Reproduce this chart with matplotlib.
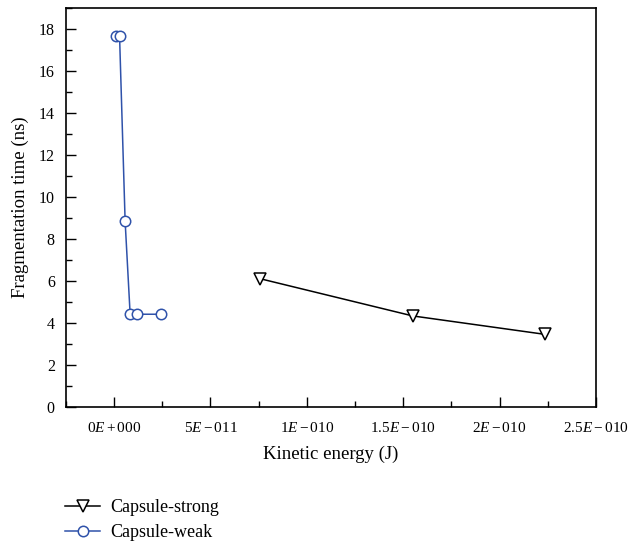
import matplotlib.pyplot as plt
from matplotlib.ticker import MultipleLocator, FixedLocator

plt.rcParams['font.family'] = 'Liberation Serif'
plt.rcParams['mathtext.fontset'] = 'custom'
plt.rcParams['mathtext.rm'] = 'Liberation Serif'
plt.rcParams['mathtext.it'] = 'Liberation Serif:italic'

# data
strong_x = [75.5e-12, 154.9e-12, 223.6e-12]
strong_y = [6.11, 4.33, 3.45]
weak_x = [1.0e-12, 2.8e-12, 5.7e-12, 8.3e-12, 12.0e-12, 24.4e-12]
weak_y = [17.7, 17.7, 8.84, 4.41, 4.41, 4.41]

x_ticks = [0, 5e-11, 1e-10, 1.5e-10, 2e-10, 2.5e-10]
x_labels = [r'$0E+000$', r'$5E-011$', r'$1E-010$', r'$1.5E-010$',
            r'$2E-010$', r'$2.5E-010$']

fig = plt.figure(figsize=(6.38, 5.43), dpi=100)
ax = fig.add_axes([0.1034, 0.251, 0.8306, 0.7337])

ax.plot(strong_x, strong_y, color='black', lw=1.1, marker='v', ms=8.5,
        mfc='white', mec='black', mew=1.1, label='Capsule-strong')
ax.plot(weak_x, weak_y, color='#2f52aa', lw=1.1, marker='o', ms=7.5,
        mfc='white', mec='#2f52aa', mew=1.1, label='Capsule-weak')

ax.set_xlim(-2.5e-11, 2.5e-10)
ax.set_ylim(0, 19)
ax.xaxis.set_major_locator(FixedLocator(x_ticks))
ax.set_xticklabels(x_labels)
ax.xaxis.set_minor_locator(MultipleLocator(2.5e-11))
ax.yaxis.set_major_locator(MultipleLocator(2))
ax.yaxis.set_minor_locator(MultipleLocator(1))
ax.tick_params(which='both', direction='in', top=False, right=False,
               width=1)
ax.tick_params(which='major', length=7)
ax.tick_params(which='minor', length=4)
ax.tick_params(axis='x', pad=10, labelsize=11)
ax.tick_params(axis='y', pad=8, labelsize=11.5)
for s in ax.spines.values():
    s.set_linewidth(1.2)

ax.set_xlabel('Kinetic energy (J)', fontsize=13.5, labelpad=8)
ax.set_ylabel('Fragmentation time (ns)', fontsize=13.5, labelpad=7)

fig.legend(loc='lower left', bbox_to_anchor=(0.077, -0.027), frameon=False,
           fontsize=13, handlelength=1.9, labelspacing=0.45,
           handletextpad=0.6)

fig.savefig('out.png', dpi=100)
